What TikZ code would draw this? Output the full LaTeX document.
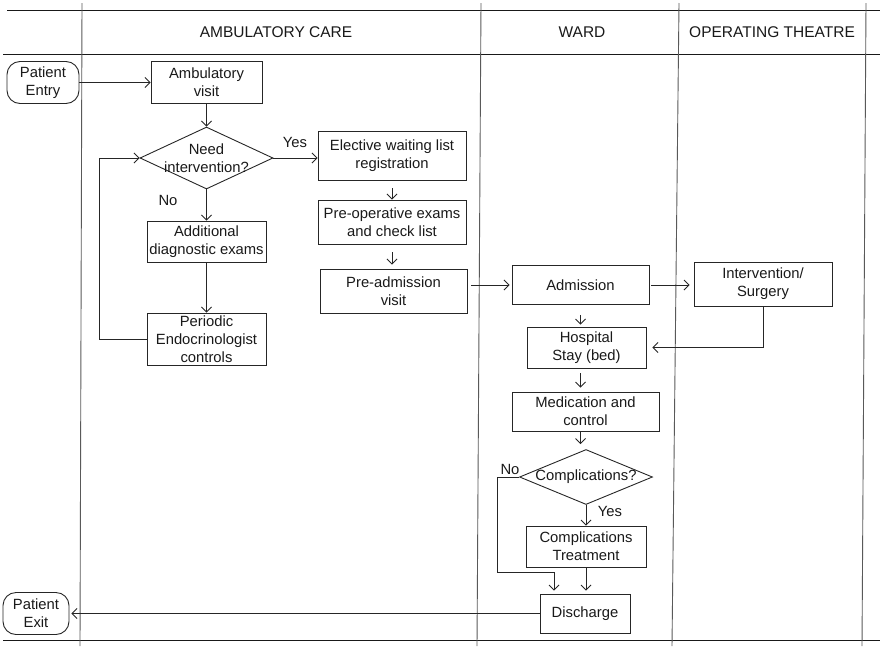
\documentclass[tikz,border=0pt]{standalone}
\usepackage{fontspec}
\setmainfont{Liberation Sans}
\usetikzlibrary{arrows.meta,shapes.geometric,calc}

\begin{document}
\begin{tikzpicture}[x=1pt,y=-1pt,
  every node/.style={text=black!90},
  lblfont/.style={font=\fontsize{14.8}{18}\selectfont},
  box/.style={draw=black!85, line width=0.9pt, inner sep=0pt, align=center, lblfont},
  term/.style={box, rounded corners=13pt},
  dec/.style={diamond, draw=black!85, line width=0.9pt, inner sep=0pt},
  txt/.style={align=center, inner sep=0pt, lblfont},
  hdr/.style={inner sep=0pt, font=\fontsize{15.5}{18}\selectfont},
  flow/.style={draw=black!85, line width=0.8pt, -{Straight Barb[length=5pt,width=10pt]}},
  rule/.style={draw=black!90, line width=0.9pt},
  lane/.style={draw=black!65, line width=0.9pt}]

\useasboundingbox (0,0) rectangle (880,646);

% swimlane frame
\draw[rule] (7,10.5) -- (880,10.5);
\draw[rule] (3,54) -- (880,54);
\draw[rule] (3,640) -- (880,640);
\draw[lane] (82,3) -- (80,646);
\draw[lane] (481,3) -- (477,646);
\draw[lane] (679,3) -- (672,646);
\draw[lane] (866,3) -- (862,646);

\node[hdr] (hamb) at (276,32) {AMBULATORY CARE};
\node[hdr] (hward) at (582,32) {WARD};
\node[hdr] (hot) at (772,32) {OPERATING THEATRE};

% ambulatory care
\node[term, minimum width=72pt, minimum height=42pt] (entry) at (43,82.5) {Patient\\Entry};
\node[box, minimum width=111pt, minimum height=42pt] (amb) at (206.5,82.5) {Ambulatory\\visit};
\node[dec, minimum width=133pt, minimum height=62pt] (need) at (206.5,158) {};
\node[txt] (needtxt) at (need) {Need\\intervention?};
\node[box, minimum width=119pt, minimum height=41pt] (add) at (206.5,241.5) {Additional\\diagnostic exams};
\node[box, minimum width=119pt, minimum height=52pt] (per) at (206.5,339) {Periodic\\Endocrinologist\\controls};
\node[box, minimum width=148pt, minimum height=49pt] (elec) at (392,155.5) {Elective waiting list\\registration};
\node[box, minimum width=148pt, minimum height=44pt] (preop) at (392,222) {Pre-operative exams\\and check list};
\node[box, minimum width=147pt, minimum height=44pt] (preadm) at (393.5,291) {Pre-admission\\visit};

% ward and operating theatre
\node[box, minimum width=137pt, minimum height=39pt] (adm) at (580.5,285) {Admission};
\node[box, minimum width=138pt, minimum height=44pt] (surg) at (763,284) {Intervention/\\Surgery};
\node[box, minimum width=119pt, minimum height=41pt] (hosp) at (586.5,347.5) {Hospital\\Stay (bed)};
\node[box, minimum width=147pt, minimum height=39pt] (med) at (585.5,411.5) {Medication and\\control};
\node[dec, minimum width=133pt, minimum height=55pt] (comp) at (586,477) {};
\node[txt] (comptxt) at (comp) {Complications?};
\node[box, minimum width=120pt, minimum height=41pt] (treat) at (586,546.5) {Complications\\Treatment};
\node[box, minimum width=90pt, minimum height=39pt] (dis) at (585,613.5) {Discharge};
\node[term, minimum width=66pt, minimum height=42pt] (exit) at (36,613.5) {Patient\\Exit};

% connectors
\draw[flow] (entry) -- (amb);
\draw[flow] (amb) -- (need);
\draw[flow] (need) -- (add);
\node[txt] (lno1) at (168,200) {No};
\draw[flow] (add) -- (per);
\draw[flow] (per.west) -- ++(-47,0) |- (need.west);
\draw[flow] (need.east) -- (need.east -| elec.west);
\node[txt] (lyes1) at (295,142) {Yes};
\draw[flow, shorten <=8pt] (elec.south) -- (elec.south |- preop.north);
\draw[flow, shorten <=8pt, shorten >=4pt] (preop.south) -- (preop.south |- preadm.north);
\draw[flow, shorten <=4pt, shorten >=2pt] (preadm.east |- adm.west) -- (adm.west);
\draw[flow, shorten <=2pt, shorten >=4pt] (adm.east) -- (adm.east -| surg.west);
\draw[flow, shorten <=10pt, shorten >=2pt] (adm.south) -- (adm.south |- hosp.north);
\draw[flow, shorten >=6pt] (surg.south) |- (hosp.east);
\draw[flow, shorten <=5pt, shorten >=4pt] (hosp.south -| adm) -- (med.north -| adm);
\draw[flow, shorten >=5pt] (med.south -| adm) -- (comp.north -| adm);
\draw[flow] (comp.south) -- (treat.north);
\node[txt] (lyes2) at (610,511) {Yes};
\coordinate (nojoin) at ($(dis.north)+(-31,-21)$);
\draw[flow, shorten >=3pt] (comp.west) -- ++(-22,0) |- (nojoin) -- (nojoin |- dis.north);
\node[txt] (lno2) at (510,469) {No};
\draw[flow, shorten >=3pt] (treat.south) -- (treat.south |- dis.north);
\draw[flow, shorten >=2pt] (dis.west) -- (dis.west -| exit.east);
\end{tikzpicture}
\end{document}
